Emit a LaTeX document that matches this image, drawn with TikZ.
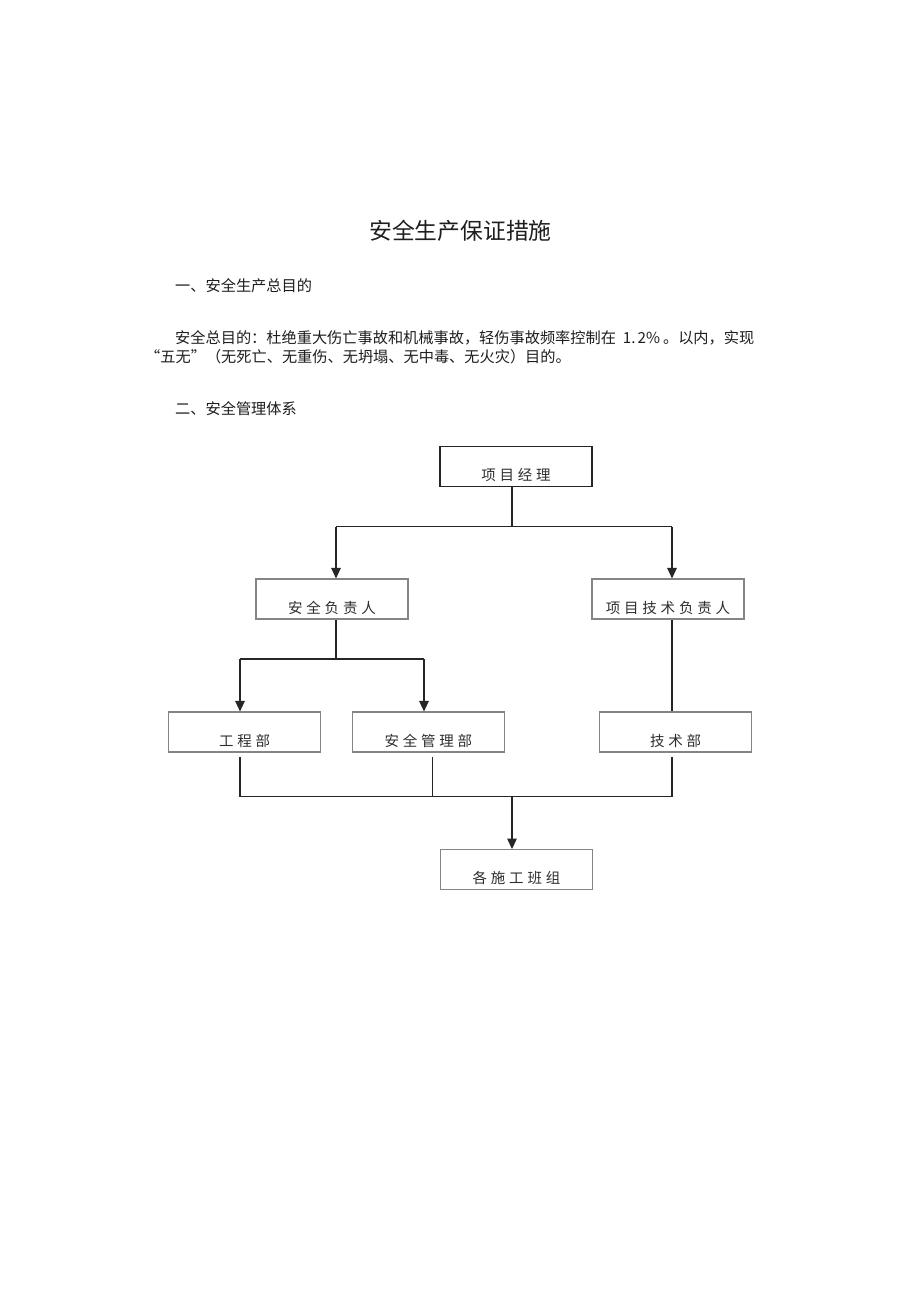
\documentclass[tikz,border=0pt]{standalone}
\usepackage{fontspec}
\setmainfont{Noto Sans CJK SC}
\newfontfamily\cjk{Noto Sans CJK SC}
\newfontfamily\cjkbox{Noto Sans CJK SC}[LetterSpace=26]
\newcommand{\fwq}[1]{{\addfontfeature{CharacterWidth=Full}#1}}
\usetikzlibrary{arrows.meta}
\definecolor{boxline}{HTML}{858585}
\definecolor{conn}{HTML}{262626}
\definecolor{txt}{HTML}{1E1E1E}
\definecolor{boxtxt}{HTML}{2E2E2E}
\tikzset{
  doc/.style={inner sep=0pt, text=txt, font=\cjk\fontsize{15.2pt}{19pt}\selectfont},
  orgbox/.style={draw=boxline, line width=1.1pt, minimum width=152pt, inner xsep=0pt,
    inner ysep=0pt, text height=34pt, text depth=6pt, text=boxtxt,
    font=\cjkbox\fontsize{14.5pt}{16pt}\selectfont},
  link/.style={draw=conn, line width=1.3pt},
  arr/.style={link, -{Triangle[width=9.5pt,length=10.5pt]}}
}
\begin{document}
\begin{tikzpicture}[x=1pt,y=-1pt]
\useasboundingbox[fill=white] (0,0) rectangle (920,1301);

% text
\node[doc, font=\cjk\fontsize{22.8pt}{26pt}\selectfont] (title) at (460.5,230.7) {安全生产保证措施};
\node[doc, anchor=west] (h1) at (175,286) {一、安全生产总目的};
\node[doc, anchor=west] (p1) at (175,337.7) {安全总目的：杜绝重大伤亡事故和机械事故，轻伤事故频率控制在\hspace{7pt}1.\hspace{2pt}2\%\hspace{3pt}。以内，实现};
\node[doc, anchor=west] (p2) at (145,356.5) {\fwq{“}五无\fwq{”}（无死亡、无重伤、无坍塌、无中毒、无火灾）目的。};
\node[doc, anchor=west] (h2) at (175,409) {二、安全管理体系};

% boxes
\node[orgbox, draw=conn] (pm) at (516,466.3) {项目经理};
\node[orgbox] (sa) at (332,599) {安全负责人};
\node[orgbox] (tl) at (668,599) {项目技术负责人};
\node[orgbox] (gc) at (244.7,732) {工程部};
\node[orgbox] (sm) at (428.3,732) {安全管理部};
\node[orgbox] (js) at (675.7,732) {技术部};
\node[orgbox] (bz) at (516.5,869.6) {各施工班组};

% junction coordinates
\coordinate (j1) at (512,526.7);
\coordinate (j1l) at (336,526.7);
\coordinate (j1r) at (672,526.7);
\coordinate (j2) at (336,659);
\coordinate (j2l) at (240,659);
\coordinate (j2r) at (424,659);
\coordinate (j3l) at (240,796.7);
\coordinate (j3m) at (432.7,796.7);
\coordinate (j3r) at (672,796.7);
\coordinate (j3) at (512,796.7);

% connectors
\draw[link] (pm.south -| j1) -- (j1);
\draw[link] (j1l) -- (j1r);
\draw[arr] (j1l) -- (j1l |- sa.north);
\draw[arr] (j1r) -- (j1r |- tl.north);
\draw[link] (sa.south -| j2) -- (j2);
\draw[link] (j2l) -- (j2r);
\draw[arr] (j2l) -- (j2l |- gc.north);
\draw[arr] (j2r) -- (j2r |- sm.north);
\draw[link] (tl.south -| j3r) -- (j3r |- js.north);
\draw[link] ([yshift=-4.5pt]gc.south -| j3l) -- (j3l);
\draw[link] ([yshift=-4.5pt]sm.south -| j3m) -- (j3m);
\draw[link] ([yshift=-4.5pt]js.south -| j3r) -- (j3r);
\draw[link] (j3l) -- (j3r);
\draw[arr] (j3) -- (j3 |- bz.north);
\end{tikzpicture}
\end{document}
